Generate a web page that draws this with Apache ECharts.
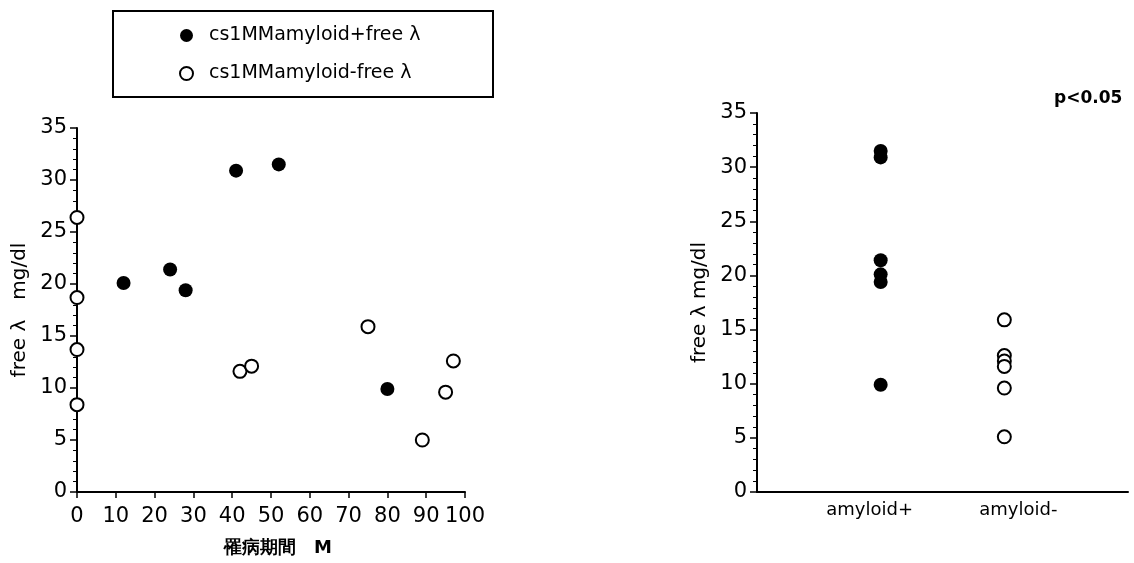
<!DOCTYPE html>
<html><head><meta charset="utf-8">
<script src="https://cdn.jsdelivr.net/npm/echarts@6/dist/echarts.min.js"></script>
<style>html,body{margin:0;padding:0;background:#fff}#c{width:1134px;height:563px}</style>
</head><body><div id="c"></div>
<script>
// Left panel: disease duration (months) vs free λ
const seriesNames = ['cs1MMamyloid+free λ', 'cs1MMamyloid-free λ'];
const posMonths = [12, 24, 28, 41, 52, 80];
const posFree   = [20.1, 21.4, 19.4, 30.9, 31.5, 9.9];
const negMonths = [0, 0, 0, 0, 42, 45, 75, 89, 95, 97];
const negFree   = [26.4, 18.7, 13.7, 8.4, 11.6, 12.1, 15.9, 5.0, 9.6, 12.6];
// Right panel: group comparison
const categories = ['amyloid+', 'amyloid-'];
const groupPosValues = [31.5, 30.9, 21.4, 20.1, 19.4, 9.9];
const groupNegValues = [15.9, 12.6, 12.1, 11.6, 9.6, 5.1];
const yTicks = [0, 5, 10, 15, 20, 25, 30, 35];
const xTicks = [0, 10, 20, 30, 40, 50, 60, 70, 80, 90, 100];

const FONT = 'DejaVu Sans';
const black = '#000';
const filledStyle = {color: black, opacity: 1};
const openStyle = {color: '#fff', borderColor: black, borderWidth: 2, opacity: 1};

function yAxis(gi, name) {
  return {
    type: 'value', gridIndex: gi, min: yTicks[0], max: yTicks[yTicks.length - 1], interval: 5,
    name: name, nameLocation: 'middle', nameGap: 47,
    nameTextStyle: {fontFamily: FONT, fontSize: 20, color: black},
    axisLine: {show: true, lineStyle: {color: black, width: 2}},
    axisTick: {show: true, length: 7, lineStyle: {color: black, width: 1.5}},
    minorTick: {show: true, splitNumber: 5, length: 4, lineStyle: {color: black, width: 1}},
    splitLine: {show: false},
    axisLabel: {fontFamily: FONT, fontSize: 21, color: black, margin: 10}
  };
}

const option = {
  animation: false,
  backgroundColor: '#fff',
  grid: [
    {left: 77, top: 128, width: 388, height: 364},
    {left: 757, top: 113, width: 371, height: 379}
  ],
  xAxis: [
    {
      type: 'value', gridIndex: 0, min: xTicks[0], max: xTicks[xTicks.length - 1], interval: 10,
      name: '罹病期間　M', nameLocation: 'middle', nameGap: 47,
      nameTextStyle: {fontFamily: FONT, fontSize: 18, fontWeight: 'bold', color: black, padding: [0, 0, 0, 14]},
      axisLine: {show: true, onZero: false, lineStyle: {color: black, width: 2}},
      axisTick: {show: true, length: 6, lineStyle: {color: black, width: 1.5}},
      splitLine: {show: false},
      axisLabel: {fontFamily: FONT, fontSize: 21, color: black, margin: 14}
    },
    {
      type: 'value', gridIndex: 1, min: 0, max: categories.length + 1, interval: 1,
      axisLine: {show: true, onZero: false, lineStyle: {color: black, width: 2}},
      axisTick: {show: false},
      splitLine: {show: false},
      axisLabel: {
        fontFamily: FONT, fontSize: 18, color: black, margin: 9,
        formatter: v => (v >= 1 && v <= categories.length) ? ('{c' + v + '|' + categories[v - 1] + '}') : '',
        rich: {
          c1: {fontFamily: FONT, fontSize: 18, color: black, padding: [0, 22, 0, 0]},
          c2: {fontFamily: FONT, fontSize: 18, color: black, padding: [0, 0, 0, 28]}
        }
      }
    }
  ],
  yAxis: [yAxis(0, 'free λ　mg/dl'), yAxis(1, 'free λ mg/dl')],
  legend: {
    left: 179, top: 26, orient: 'vertical', itemGap: 19, padding: 0,
    itemWidth: 13, itemHeight: 13,
    textStyle: {fontFamily: FONT, fontSize: 19, color: black, padding: [0, 0, 0, 11]},
    data: [
      {name: seriesNames[0], icon: 'circle', itemStyle: filledStyle},
      {name: seriesNames[1], icon: 'circle', itemStyle: openStyle}
    ]
  },
  graphic: [
    {type: 'rect', shape: {x: 113, y: 11, width: 380, height: 86},
     style: {fill: 'none', stroke: black, lineWidth: 2}},
    {type: 'text', left: 1054, top: 90,
     style: {text: 'p<0.05', font: 'bold 17px "DejaVu Sans"', fill: black}}
  ],
  series: [
    {name: seriesNames[0], type: 'scatter', xAxisIndex: 0, yAxisIndex: 0,
     symbol: 'circle', symbolSize: 14, itemStyle: filledStyle,
     data: posMonths.map((m, i) => [m, posFree[i]])},
    {name: seriesNames[1], type: 'scatter', xAxisIndex: 0, yAxisIndex: 0,
     symbol: 'circle', symbolSize: 13, itemStyle: openStyle,
     data: negMonths.map((m, i) => [m, negFree[i]])},
    {name: seriesNames[0], type: 'scatter', xAxisIndex: 1, yAxisIndex: 1,
     symbol: 'circle', symbolSize: 14, itemStyle: filledStyle,
     data: groupPosValues.map(v => [1, v])},
    {name: seriesNames[1], type: 'scatter', xAxisIndex: 1, yAxisIndex: 1,
     symbol: 'circle', symbolSize: 13, itemStyle: openStyle,
     data: groupNegValues.map(v => [2, v])}
  ]
};
const chart = echarts.init(document.getElementById('c'), null, {renderer: 'canvas'});
chart.setOption(option);
</script></body></html>
